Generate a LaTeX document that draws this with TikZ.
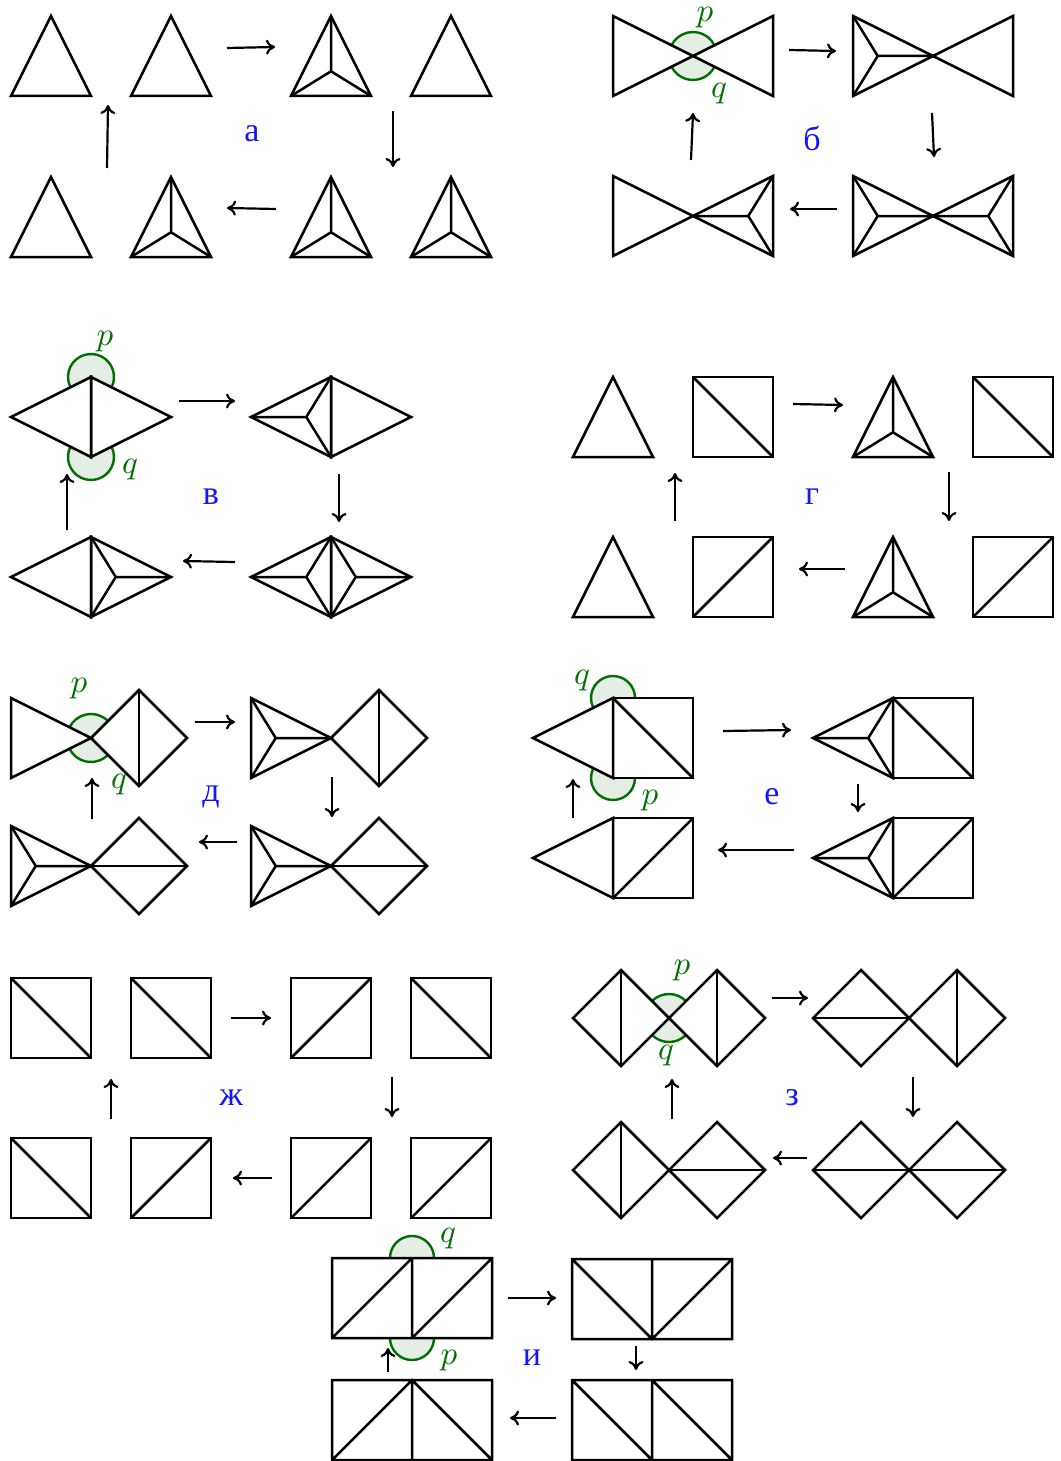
\documentclass[tikz,border=0pt]{standalone}
\usepackage{fontspec}
\newfontfamily\cyr{Liberation Serif}
\usetikzlibrary{calc,arrows.meta}
\definecolor{pqd}{RGB}{0,110,0}
\definecolor{pqf}{RGB}{228,238,228}
\definecolor{lblue}{RGB}{20,20,255}
\tikzset{
  shp/.style={line width=2.5pt},
  arr/.style={line width=2.2pt,-{To[length=9pt,width=15pt]}},
  secf/.style={fill=pqf},
  secd/.style={draw=pqd,line width=2.4pt},
  lab/.style={text=lblue,font=\cyr\fontsize{34}{34}\selectfont,inner sep=0pt},
  pq/.style={text=pqd,scale=3.3,inner sep=0pt},
}
% triangle: name, apex, base1, base2
\newcommand\Tri[4]{\coordinate (#1a) at #2; \coordinate (#1b) at #3; \coordinate (#1c) at #4;
  \draw[shp] (#1a)--(#1b)--(#1c)--cycle;}
\newcommand\Inc[1]{\coordinate (#1i) at ($(#1b)!0.5!(#1c)!0.309!(#1a)$);
  \draw[shp] (#1a)--(#1i) (#1b)--(#1i) (#1c)--(#1i);}
\newcommand\UT[3]{\Tri{#1}{(#2+40,#3)}{(#2,#3+80)}{(#2+80,#3+80)}}
\newcommand\SqA[2]{\draw[shp] (#1,#2) rectangle ++(80,80); \draw[shp] (#1,#2)--++(80,80);}
\newcommand\SqB[2]{\draw[shp] (#1,#2) rectangle ++(80,80); \draw[shp] (#1,#2+80)--++(80,-80);}
\newcommand\Sec[4]{\fill[secf] #1 -- ++({-(#2)}:#4) arc[start angle={-(#2)},end angle={-(#3)},radius=#4] -- cycle;
  \draw[secd] #1 ++({-(#2)}:#4) arc[start angle={-(#2)},end angle={-(#3)},radius=#4];}
\newcommand\Ar[3]{\coordinate (#1s) at #2; \coordinate (#1e) at #3; \draw[arr] (#1s)--(#1e);}
% bowtie centred at (cx,cy)
\newcommand\BT[3]{\Tri{#1l}{(#2,#3)}{(#2-80,#3-40)}{(#2-80,#3+40)}\Tri{#1r}{(#2,#3)}{(#2+80,#3-40)}{(#2+80,#3+40)}}
% rhombus with vertical diagonal at cx
\newcommand\RH[3]{\Tri{#1l}{(#2-80,#3)}{(#2,#3-40)}{(#2,#3+40)}\Tri{#1r}{(#2+80,#3)}{(#2,#3-40)}{(#2,#3+40)}}
% diamond with left vertex (x,y)
\newcommand\Dm[2]{\draw[shp] (#1,#2)--(#1+48,#2-48)--(#1+96,#2)--(#1+48,#2+48)--cycle;}
\newcommand\DmV[2]{\Dm{#1}{#2}\draw[shp] (#1+48,#2-48)--(#1+48,#2+48);}
\newcommand\DmH[2]{\Dm{#1}{#2}\draw[shp] (#1,#2)--(#1+96,#2);}
\begin{document}
\begin{tikzpicture}[x=1pt,y=-1pt]
\fill[white] (0,0) rectangle (1060,1461);
\useasboundingbox (0,0) rectangle (1060,1461);
\clip (0,0) rectangle (1060,1461);

% ---------------- a
\UT{a1}{11}{16} \UT{a2}{131}{16} \UT{a3}{291}{16}\Inc{a3} \UT{a4}{411}{16}
\UT{a5}{11}{177} \UT{a6}{131}{177}\Inc{a6} \UT{a7}{291}{177}\Inc{a7} \UT{a8}{411}{177}\Inc{a8}
\Ar{aa1}{(227,48)}{(275,47)} \Ar{aa2}{(393,111)}{(393,167)}
\Ar{aa3}{(276,209)}{(227,208)} \Ar{aa4}{(107,168)}{(108,105)}
\node[lab] (la) at (252,134) {а};

% ---------------- b
\Sec{(693,56)}{26.57}{153.43}{24} \Sec{(693,56)}{206.57}{333.43}{24}
\BT{b1}{693}{56}
\BT{b2}{933}{56}\Inc{b2l}
\BT{b3}{693}{216}\Inc{b3r}
\BT{b4}{933}{216}\Inc{b4l}\Inc{b4r}
\node[pq] (bp) at (705,18) {$p$};
\node[pq] (bq) at (719,94) {$q$};
\Ar{ba1}{(789,50)}{(836,51)} \Ar{ba2}{(932,113)}{(934,157)}
\Ar{ba3}{(837,209)}{(790,209)} \Ar{ba4}{(691,160)}{(693,113)}
\node[lab] (lb) at (812,138) {б};

% ---------------- v
\Sec{(91,377)}{-26.57}{206.57}{23} \Sec{(91,457)}{153.43}{386.57}{23}
\RH{v1}{91}{417}
\RH{v2}{331}{417}\Inc{v2l}
\RH{v3}{91}{577}\Inc{v3r}
\RH{v4}{331}{577}\Inc{v4l}\Inc{v4r}
\node[pq] (vp) at (105,342) {$p$};
\node[pq] (vq) at (130,470) {$q$};
\Ar{va1}{(179,401)}{(235,401)} \Ar{va2}{(339,474)}{(339,522)}
\Ar{va3}{(235,562)}{(183,561)} \Ar{va4}{(67,530)}{(67,474)}
\node[lab] (lv) at (211,497) {в};

% ---------------- g
\UT{g1}{573}{377} \SqA{693}{377} \UT{g2}{853}{377}\Inc{g2} \SqA{973}{377}
\UT{g3}{573}{537} \SqB{693}{537} \UT{g4}{853}{537}\Inc{g4} \SqB{973}{537}
\Ar{ga1}{(793,404)}{(843,405)} \Ar{ga2}{(949,472)}{(949,521)}
\Ar{ga3}{(845,569)}{(799,569)} \Ar{ga4}{(675,521)}{(675,473)}
\node[lab] (lg) at (812,497) {г};

% ---------------- d
\Sec{(91,738)}{45}{153.43}{24} \Sec{(91,738)}{206.57}{315}{24}
\Tri{d1}{(91,738)}{(11,698)}{(11,778)} \DmV{91}{738}
\Tri{d2}{(331,738)}{(251,698)}{(251,778)}\Inc{d2} \DmV{331}{738}
\Tri{d3}{(91,866)}{(11,826)}{(11,906)}\Inc{d3} \DmH{91}{866}
\Tri{d4}{(331,866)}{(251,826)}{(251,906)}\Inc{d4} \DmH{331}{866}
\node[pq] (dp) at (79,689) {$p$};
\node[pq] (dq) at (119,785) {$q$};
\Ar{da1}{(195,722)}{(235,722)} \Ar{da2}{(332,777)}{(332,817)}
\Ar{da3}{(237,842)}{(199,842)} \Ar{da4}{(92,819)}{(92,778)}
\node[lab] (ld) at (211,797) {д};

% ---------------- e
\Sec{(613,698)}{0}{206.57}{22} \Sec{(613,778)}{153.43}{360}{22}
\Tri{e1}{(533,738)}{(613,698)}{(613,778)} \SqA{613}{698}
\Tri{e2}{(813,738)}{(893,698)}{(893,778)}\Inc{e2} \SqA{893}{698}
\Tri{e3}{(533,858)}{(613,818)}{(613,898)} \SqB{613}{818}
\Tri{e4}{(813,858)}{(893,818)}{(893,898)}\Inc{e4} \SqB{893}{818}
\node[pq] (eq) at (582,681) {$q$};
\node[pq] (ep) at (650,801) {$p$};
\Ar{ea1}{(723,731)}{(791,730)} \Ar{ea2}{(858,784)}{(858,812)}
\Ar{ea3}{(794,850)}{(718,850)} \Ar{ea4}{(573,818)}{(573,779)}
\node[lab] (le) at (772,797) {е};

% ---------------- zh
\SqA{11}{978} \SqA{131}{978} \SqB{291}{978} \SqA{411}{978}
\SqA{11}{1138} \SqB{131}{1138} \SqB{291}{1138} \SqB{411}{1138}
\Ar{za1}{(231,1018)}{(271,1018)} \Ar{za2}{(392,1077)}{(392,1117)}
\Ar{za3}{(272,1178)}{(233,1178)} \Ar{za4}{(111,1119)}{(111,1079)}
\node[lab] (lzh) at (231,1098) {ж};

% ---------------- z
\Sec{(669,1018)}{45}{135}{24} \Sec{(669,1018)}{225}{315}{24}
\DmV{573}{1018} \DmV{669}{1018}
\DmH{813}{1018} \DmV{909}{1018}
\DmV{573}{1170} \DmH{669}{1170}
\DmH{813}{1170} \DmH{909}{1170}
\node[pq] (zp) at (682,971) {$p$};
\node[pq] (zq) at (666,1056) {$q$};
\Ar{zz1}{(772,998)}{(808,998)} \Ar{zz2}{(913,1077)}{(913,1117)}
\Ar{zz3}{(807,1158)}{(773,1158)} \Ar{zz4}{(672,1119)}{(672,1079)}
\node[lab] (lz) at (792,1098) {з};

% ---------------- i
\Sec{(412,1258)}{0}{180}{22} \Sec{(412,1338)}{180}{360}{22}
\draw[shp] (332,1258) rectangle (492,1338) (412,1258)--(412,1338) (332,1338)--(412,1258) (412,1338)--(492,1258);
\draw[shp] (572,1259) rectangle (732,1339) (652,1259)--(652,1339) (572,1259)--(652,1339)--(732,1259);
\draw[shp] (332,1380) rectangle (492,1460) (412,1380)--(412,1460) (332,1460)--(412,1380)--(492,1460);
\draw[shp] (572,1380) rectangle (732,1460) (652,1380)--(652,1460) (572,1380)--(652,1460) (652,1380)--(732,1460);
\node[pq] (iq) at (448,1239) {$q$};
\node[pq] (ip) at (449,1361) {$p$};
\Ar{ia1}{(508,1298)}{(556,1298)} \Ar{ia2}{(636,1346)}{(636,1370)}
\Ar{ia3}{(556,1418)}{(510,1418)} \Ar{ia4}{(388,1372)}{(388,1348)}
\node[lab] (li) at (532,1358) {и};
\end{tikzpicture}
\end{document}
